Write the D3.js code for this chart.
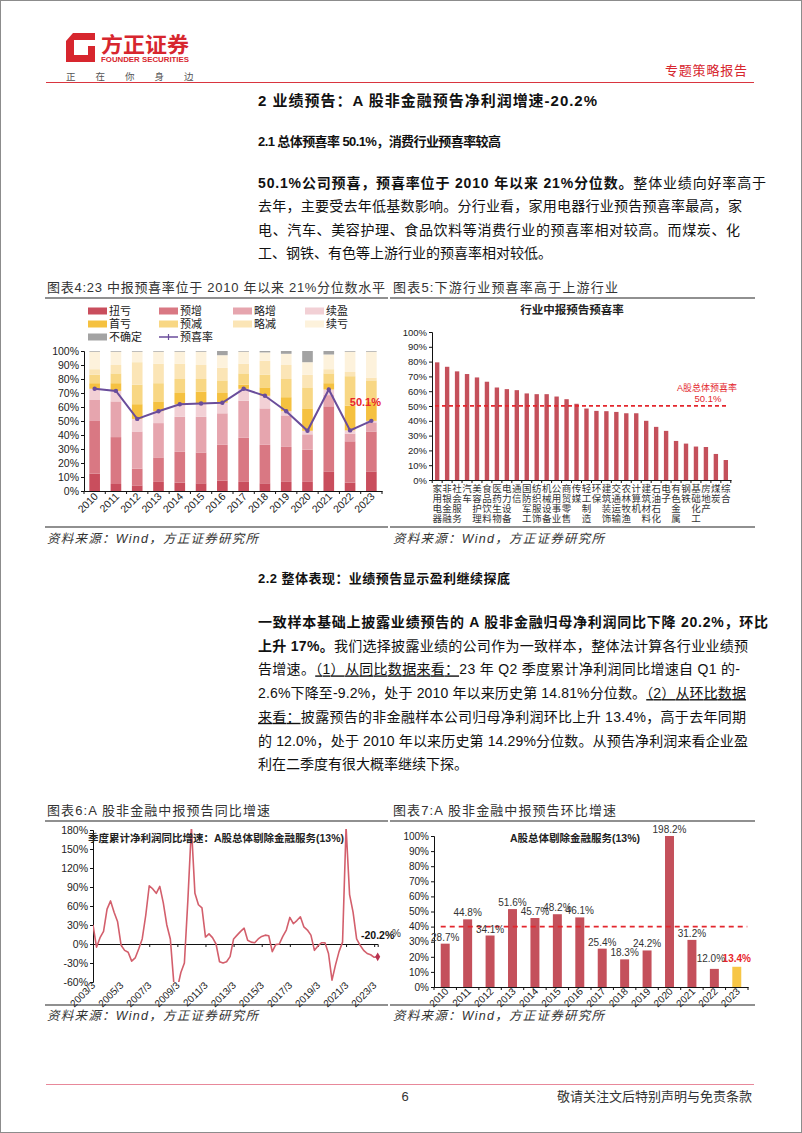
<!DOCTYPE html>
<html><head><meta charset="utf-8">
<script src="https://cdn.jsdelivr.net/npm/d3@7"></script>
<style>
html,body{margin:0;padding:0;background:#fff;}
svg{display:block;}
text{font-family:"Liberation Sans",Arial,"Noto Sans CJK SC",sans-serif;}
</style></head><body>
<svg id="page" width="802" height="1133"></svg>
<script>
// ---------------- DATA ----------------
const years = ["2010","2011","2012","2013","2014","2015","2016","2017","2018","2019","2020","2021","2022","2023"];
const fcKeys = ["扭亏","预增","略增","续盈","首亏","预减","略减","续亏","不确定"];
const fcNiukui   = [12.5,5,4,6.5,6,5.5,7.5,6.5,5.5,6.5,6.5,14,6,14];
const fcYuzeng   = [37.5,33.5,12,17.5,22,22,25.5,31.5,27.5,25,23,46.5,29.5,28.5];
const fcLuezeng  = [15,25.5,26.5,24.5,25,25.5,22.5,26.5,26,22.5,11,8,5.5,6.5];
const fcXuying   = [8,7.5,9,8.5,9,9.5,7.5,8.5,9,3,2.5,4,2.3,1.1];
const fcShoukui  = [4,5.5,10.5,7,8,8.5,7,3,6,10,16,4.5,17.7,13.9];
const fcYujian   = [6,7,14,13,10,9,9,8,9,13,15,7,21,15];
const fcLuejian  = [4,6,16,14,11,10,9,7,10,10,9,3,3,2];
const fcXukui    = [12.5,9.5,7.5,8.5,8.5,9.5,9,8.5,6,8,9,10.5,14.5,18.5];
const fcBuqueding= [0.5,0.5,0.5,0.5,0.5,0.5,3,0.5,1,2,8,2.5,0.5,0.5];
const happyRate  = [73,71.5,51.5,57,62,62.5,63,73,68,57,43,72.5,43.3,50.1];

const industries = ["家用电器","非银金融","社会服务","汽车","美容护理","食品饮料","医药生物","电力设备","通信","国防军工","纺织服饰","机械设备","公用事业","商贸零售","传媒","轻工制造","环保","建筑装饰","交通运输","农林牧渔","计算机","建筑材料","石油石化","电子","有色金属","钢铁","基础化工","房地产","煤炭","综合"];
const industryRate = [79.5,76.5,73.4,71.6,69.3,66.4,62.5,61.4,60.7,58.5,58,58,56.4,54.6,51.5,48.3,46.7,46.5,46,45.1,45.1,40,35.9,33.2,26.4,24.6,22.6,22.3,17.6,13.5];
const marketRate = 50.1;

const quarters = [
 "2003/3","2003/6","2003/9","2003/12","2004/3","2004/6","2004/9","2004/12",
 "2005/3","2005/6","2005/9","2005/12","2006/3","2006/6","2006/9","2006/12",
 "2007/3","2007/6","2007/9","2007/12","2008/3","2008/6","2008/9","2008/12",
 "2009/3","2009/6","2009/9","2009/12","2010/3","2010/6","2010/9","2010/12",
 "2011/3","2011/6","2011/9","2011/12","2012/3","2012/6","2012/9","2012/12",
 "2013/3","2013/6","2013/9","2013/12","2014/3","2014/6","2014/9","2014/12",
 "2015/3","2015/6","2015/9","2015/12","2016/3","2016/6","2016/9","2016/12",
 "2017/3","2017/6","2017/9","2017/12","2018/3","2018/6","2018/9","2018/12",
 "2019/3","2019/6","2019/9","2019/12","2020/3","2020/6","2020/9","2020/12",
 "2021/3","2021/6","2021/9","2021/12","2022/3","2022/6","2022/9","2022/12",
 "2023/3","2023/6"];
const yoyGrowth = [30,-5,10,20,55,68,50,35,
 -2,-10,-13,-27,-22,-8,8,45,
 92,87,80,91,65,30,8,-62,
 -70,-45,-30,70,185,80,62,57,
 11,16,10,0,-28,-30,-28,-20,
 8,14,20,25,6,3,2,8,
 12,14,13,-12,-1,0,12,22,
 42,32,37,43,27,22,14,-10,
 -3,2,2,-15,-57,-33,-12,3,
 185,78,50,8,-2,-10,-15,-17,
 -21,-20.2];
const yoyTicks = ["2003/3","2005/3","2007/3","2009/3","2011/3","2013/3","2015/3","2017/3","2019/3","2021/3","2023/3"];

const qoqGrowth = [28.7,44.8,34.1,51.6,45.7,48.2,46.1,25.4,18.3,24.2,198.2,31.2,12.0,13.4];
const qoqRef = 40;

// ---------------- PAGE ----------------
const svg = d3.select("#page");
svg.append("rect").attr("x",0.5).attr("y",0.5).attr("width",801).attr("height",1132)
  .attr("fill","#fff").attr("stroke","#8c8c8c");

function txt(x, y, s, o = {}) {
  const t = svg.append("text").attr("x", x).attr("y", y).text(s)
    .attr("font-size", o.size || 12).attr("fill", o.fill || "#222");
  if (o.weight) t.attr("font-weight", o.weight);
  if (o.anchor) t.attr("text-anchor", o.anchor);
  if (o.italic) t.attr("font-style", "italic");
  if (o.len) t.attr("textLength", o.len).attr("lengthAdjust", o.adj || "spacing");
  return t;
}
function hline(x1, x2, y, c, w) {
  svg.append("line").attr("x1", x1).attr("x2", x2).attr("y1", y).attr("y2", y)
    .attr("stroke", c).attr("stroke-width", w || 1);
}

// Header
const red = "#d7262e";
svg.append("path").attr("fill", red)
  .attr("d","M66,41 L73,33 L95,33 L95,40 L74,40 L74,55 L88,55 L88,46 L95,46 L95,62 L66,62 Z");
txt(101, 52, "方正证券", {size: 21, weight: "bold", fill: red, len: 88, adj: "spacingAndGlyphs"});
txt(101, 62, "FOUNDER SECURITIES", {size: 8, weight: "bold", fill: red, len: 88, adj: "spacingAndGlyphs"});
["正","在","你","身","边"].forEach((c, i) => txt(66 + i * 29.5, 80, c, {size: 9.5, fill: "#555"}));
txt(665, 75, "专题策略报告", {size: 13, fill: red, len: 82});
hline(46, 754, 82.5, "#d9353f", 1.2);

// Section titles
txt(258, 106, "2 业绩预告：A 股非金融预告净利润增速-20.2%", {size: 15, weight: "bold", fill: "#111", len: 339});
txt(258, 146, "2.1 总体预喜率 50.1%，消费行业预喜率较高", {size: 13, weight: "bold", fill: "#111", len: 243});

function para(lines, x, y0, lh) {
  lines.forEach((ln, i) => {
    const t = svg.append("text").attr("x", x).attr("y", y0 + i * lh)
      .attr("font-size", 14).attr("fill", "#111");
    ln.s.forEach(s => {
      const ts = t.append("tspan").text(s.t);
      if (s.b) ts.attr("font-weight", "bold");
      if (s.u) ts.style("text-decoration", "underline");
    });
    if (ln.w) t.attr("textLength", ln.w).attr("lengthAdjust", "spacing");
  });
}
para([
  {s: [{t: "50.1%公司预喜，预喜率位于 2010 年以来 21%分位数。", b: 1}, {t: "整体业绩向好率高于"}], w: 508},
  {s: [{t: "去年，主要受去年低基数影响。分行业看，家用电器行业预告预喜率最高，家"}], w: 484},
  {s: [{t: "电、汽车、美容护理、食品饮料等消费行业的预喜率相对较高。而煤炭、化"}], w: 482},
  {s: [{t: "工、钢铁、有色等上游行业的预喜率相对较低。"}]}
], 258, 188, 23.3);

txt(258, 583, "2.2 整体表现：业绩预告显示盈利继续探底", {size: 13, weight: "bold", fill: "#111", len: 252});
para([
  {s: [{t: "一致样本基础上披露业绩预告的 A 股非金融归母净利润同比下降 20.2%，环比", b: 1}], w: 510},
  {s: [{t: "上升 17%。", b: 1}, {t: "我们选择披露业绩的公司作为一致样本，整体法计算各行业业绩预"}], w: 490},
  {s: [{t: "告增速。"}, {t: "（1）从同比数据来看：", u: 1}, {t: "23 年 Q2 季度累计净利润同比增速自 Q1 的-"}], w: 482},
  {s: [{t: "2.6%下降至-9.2%，处于 2010 年以来历史第 14.81%分位数。"}, {t: "（2）从环比数据", u: 1}], w: 488},
  {s: [{t: "来看：", u: 1}, {t: "披露预告的非金融样本公司归母净利润环比上升 13.4%，高于去年同期"}], w: 488},
  {s: [{t: "的 12.0%，处于 2010 年以来历史第 14.29%分位数。从预告净利润来看企业盈"}], w: 490},
  {s: [{t: "利在二季度有很大概率继续下探。"}]}
], 258, 627, 23.7);

// Chart frames
txt(47, 292, "图表4:23 中报预喜率位于 2010 年以来 21%分位数水平", {size: 13, fill: "#333", len: 338});
txt(393, 292, "图表5:下游行业预喜率高于上游行业", {size: 13, fill: "#333", len: 225});
hline(45, 388, 298, "#222", 1.2); hline(390, 755, 298, "#222", 1.2);
hline(45, 388, 527, "#222", 1.2); hline(390, 755, 527, "#222", 1.2);
txt(47, 543, "资料来源：Wind，方正证券研究所", {size: 12.5, fill: "#333", italic: 1, len: 211});
txt(393, 543, "资料来源：Wind，方正证券研究所", {size: 12.5, fill: "#333", italic: 1, len: 211});

txt(47, 815, "图表6:A 股非金融中报预告同比增速", {size: 13, fill: "#333", len: 223});
txt(393, 815, "图表7:A 股非金融中报预告环比增速", {size: 13, fill: "#333", len: 223});
hline(45, 388, 821, "#222", 1.2); hline(390, 755, 821, "#222", 1.2);
hline(45, 388, 1005, "#222", 1.2); hline(390, 755, 1005, "#222", 1.2);
txt(47, 1020, "资料来源：Wind，方正证券研究所", {size: 12.5, fill: "#333", italic: 1, len: 211});
txt(393, 1020, "资料来源：Wind，方正证券研究所", {size: 12.5, fill: "#333", italic: 1, len: 211});

// Footer
hline(46, 754, 1084.5, "#e8889a", 1);
txt(405, 1101, "6", {size: 13, fill: "#333", anchor: "middle"});
txt(752, 1101, "敬请关注文后特别声明与免责条款", {size: 13, fill: "#333", anchor: "end"});

function styleAxis(g, size) {
  g.attr("font-family", null).attr("font-size", null);
  g.selectAll("text").attr("font-size", size).attr("fill", "#222");
  g.selectAll("path,line").attr("stroke", "#111");
}
function catTicks(g, x, cats, y0, outer) {
  g.selectAll("line.xt").data(d3.range(cats.length + 1)).join("line").attr("class", "xt")
    .attr("x1", i => x(cats[0]) - x.step() * x.paddingInner() / 2 + i * x.step())
    .attr("x2", i => x(cats[0]) - x.step() * x.paddingInner() / 2 + i * x.step())
    .attr("y1", y0).attr("y2", y0 + 3).attr("stroke", "#111");
}

// ---------------- CHART 4 ----------------
(function () {
  const g = svg.append("g");
  const colors = ["#c94e5d","#d97883","#e6a5ae","#f2d0d5","#f5c140","#f8d784","#fbe5b6","#fdf2dc","#a3a3a3"];
  const series = [fcNiukui,fcYuzeng,fcLuezeng,fcXuying,fcShoukui,fcYujian,fcLuejian,fcXukui,fcBuqueding];
  const table = years.map((y, i) => { const o = {year: y}; fcKeys.forEach((k, j) => o[k] = series[j][i]); return o; });
  const x = d3.scaleBand().domain(years).range([84, 382]).paddingInner(0.5).paddingOuter(0.25);
  const y = d3.scaleLinear().domain([0, 100]).range([491, 351]);
  const stacked = d3.stack().keys(fcKeys)(table);
  g.selectAll("g.layer").data(stacked).join("g").attr("fill", (d, i) => colors[i])
    .selectAll("rect").data(d => d).join("rect")
    .attr("x", d => x(d.data.year)).attr("width", x.bandwidth())
    .attr("y", d => y(d[1])).attr("height", d => y(d[0]) - y(d[1]));
  const ya = g.append("g").attr("transform", "translate(84,0)")
    .call(d3.axisLeft(y).tickValues(d3.range(0, 101, 10)).tickFormat(d => d + "%").tickSize(3).tickPadding(2));
  styleAxis(ya, 10.5);
  const xa = g.append("g").attr("transform", "translate(0,491)")
    .call(d3.axisBottom(x).tickSize(0).tickFormat(""));
  styleAxis(xa, 10);
  catTicks(g, x, years, 491);
  g.selectAll("text.xl").data(years).join("text").attr("class", "xl")
    .attr("transform", d => `translate(${x(d) + x.bandwidth() / 2 + 4},${497}) rotate(-45)`)
    .attr("text-anchor", "end").attr("font-size", 10.5).attr("fill", "#222").text(d => d);
  const pts = years.map((yr, i) => ({year: yr, v: happyRate[i]}));
  g.append("path").datum(pts).attr("fill", "none").attr("stroke", "#6a4d9b").attr("stroke-width", 2)
    .attr("d", d3.line().x(d => x(d.year) + x.bandwidth() / 2).y(d => y(d.v)));
  g.selectAll("circle").data(pts).join("circle").attr("r", 2.2).attr("fill", "#6a4d9b")
    .attr("cx", d => x(d.year) + x.bandwidth() / 2).attr("cy", d => y(d.v));
  g.append("text").attr("x", 381).attr("y", 406).attr("text-anchor", "end").attr("font-size", 11)
    .attr("font-weight", "bold").attr("fill", "#e8252b").text(happyRate[13] + "%");
  // legend
  const cols = [88, 159, 233, 305], rows = [311, 324, 337];
  fcKeys.forEach((k, i) => {
    const cx = cols[i % 4], cy = rows[Math.floor(i / 4)];
    g.append("rect").attr("x", cx).attr("y", cy - 3.5).attr("width", 19).attr("height", 7).attr("fill", colors[i]);
    g.append("text").attr("x", cx + 21).attr("y", cy + 4).attr("font-size", 11).attr("fill", "#222").text(k);
  });
  const lx = cols[1], ly = rows[2];
  g.append("line").attr("x1", lx).attr("x2", lx + 19).attr("y1", ly).attr("y2", ly).attr("stroke", "#6a4d9b").attr("stroke-width", 1.5);
  g.append("line").attr("x1", lx + 9.5).attr("x2", lx + 9.5).attr("y1", ly - 3).attr("y2", ly + 3).attr("stroke", "#6a4d9b").attr("stroke-width", 1.2);
  g.append("text").attr("x", lx + 21).attr("y", ly + 4).attr("font-size", 11).attr("fill", "#222").text("预喜率");
})();

// ---------------- CHART 5 ----------------
(function () {
  const g = svg.append("g");
  const x = d3.scaleBand().domain(industries).range([432, 731]).paddingInner(0.56).paddingOuter(0.3);
  const y = d3.scaleLinear().domain([0, 100]).range([480, 332]);
  g.append("text").attr("x", 572).attr("y", 314).attr("text-anchor", "middle").attr("font-size", 11.5)
    .attr("font-weight", "bold").attr("fill", "#222").text("行业中报预告预喜率");
  g.selectAll("rect").data(industries).join("rect").attr("fill", "#c4505b")
    .attr("x", d => x(d)).attr("width", x.bandwidth())
    .attr("y", (d, i) => y(industryRate[i])).attr("height", (d, i) => y(0) - y(industryRate[i]));
  const ya = g.append("g").attr("transform", "translate(432,0)")
    .call(d3.axisLeft(y).tickValues(d3.range(0, 101, 10)).tickFormat(d => d + "%").tickSize(3).tickPadding(2));
  styleAxis(ya, 9.5);
  const xa = g.append("g").attr("transform", "translate(0,480)")
    .call(d3.axisBottom(x).tickSize(0).tickFormat(""));
  styleAxis(xa, 9);
  catTicks(g, x, industries, 480);
  industries.forEach(name => {
    const t = g.append("text").attr("font-size", 9.5).attr("fill", "#333").attr("text-anchor", "middle");
    Array.from(name).forEach((c, j) => {
      t.append("tspan").attr("x", x(name) + x.bandwidth() / 2).attr("y", 491.5 + j * 10).text(c);
    });
  });
  g.append("line").attr("x1", x(industries[0])).attr("x2", x(industries[29]) + x.bandwidth())
    .attr("y1", y(marketRate)).attr("y2", y(marketRate))
    .attr("stroke", "#e3262d").attr("stroke-width", 1.6).attr("stroke-dasharray", "4,3");
  g.append("text").attr("x", 707).attr("y", 391).attr("text-anchor", "middle").attr("font-size", 9)
    .attr("fill", "#e3262d").text("A股总体预喜率");
  g.append("text").attr("x", 708).attr("y", 402).attr("text-anchor", "middle").attr("font-size", 9.5)
    .attr("fill", "#e3262d").text(marketRate + "%");
})();

// ---------------- CHART 6 ----------------
(function () {
  const g = svg.append("g");
  const x = d3.scalePoint().domain(quarters).range([93, 377.7]);
  const y = d3.scaleLinear().domain([-60, 180]).range([982, 830]);
  const ya = g.append("g").attr("transform", "translate(93,0)")
    .call(d3.axisLeft(y).tickValues(d3.range(-60, 181, 30)).tickFormat(d => d + "%").tickSize(3).tickPadding(2));
  styleAxis(ya, 10.5);
  const xa = g.append("g").attr("transform", `translate(0,${y(0)})`)
    .call(d3.axisBottom(x).tickValues(yoyTicks).tickSize(3).tickFormat(""));
  styleAxis(xa, 10);
  g.selectAll("text.xl").data(yoyTicks).join("text").attr("class", "xl")
    .attr("transform", d => `translate(${x(d) + 3},${y(-60) + 4}) rotate(-45)`)
    .attr("text-anchor", "end").attr("font-size", 10).attr("fill", "#222").text(d => d);
  svg.append("clipPath").attr("id", "clip6").append("rect").attr("x", 93).attr("y", y(180) - 1).attr("width", 300).attr("height", y(-60) - y(180) + 1);
  const pts = quarters.map((q, i) => ({q, v: yoyGrowth[i]}));
  g.append("path").datum(pts).attr("clip-path", "url(#clip6)").attr("fill", "none")
    .attr("stroke", "#d35f6c").attr("stroke-width", 1.6).attr("stroke-linejoin", "round")
    .attr("d", d3.line().x(d => x(d.q)).y(d => y(d.v)));
  const last = pts[pts.length - 1];
  g.append("path").attr("transform", `translate(${x(last.q)},${y(last.v)})`)
    .attr("d", d3.symbol(d3.symbolDiamond, 22)()).attr("fill", "#b8324f");
  g.append("text").attr("x", 361).attr("y", y(last.v) - 18).attr("font-size", 10.5).attr("font-weight", "bold")
    .attr("fill", "#111").text(last.v + "%");
  g.append("text").attr("x", 216).attr("y", 842).attr("text-anchor", "middle").attr("font-size", 10.5)
    .attr("font-weight", "bold").attr("fill", "#222").text("季度累计净利润同比增速：A股总体剔除金融服务(13%)");
})();

// ---------------- CHART 7 ----------------
(function () {
  const g = svg.append("g");
  const x = d3.scaleBand().domain(years).range([434, 748]).paddingInner(0.6).paddingOuter(0.3);
  const y = d3.scaleLinear().domain([0, 100]).range([987, 836]).clamp(true);
  g.selectAll("rect").data(years).join("rect")
    .attr("fill", (d, i) => i === 13 ? "#f7c646" : "#c4505b")
    .attr("x", d => x(d)).attr("width", x.bandwidth())
    .attr("y", (d, i) => y(qoqGrowth[i])).attr("height", (d, i) => y(0) - y(qoqGrowth[i]));
  const ya = g.append("g").attr("transform", "translate(434,0)")
    .call(d3.axisLeft(y).tickValues(d3.range(0, 101, 10)).tickFormat(d => d + "%").tickSize(3).tickPadding(2));
  styleAxis(ya, 10);
  const xa = g.append("g").attr("transform", "translate(0,987)")
    .call(d3.axisBottom(x).tickSize(0).tickFormat(""));
  styleAxis(xa, 10);
  catTicks(g, x, years, 987);
  g.selectAll("text.xl").data(years).join("text").attr("class", "xl")
    .attr("transform", d => `translate(${x(d) + x.bandwidth() / 2 + 4},${992}) rotate(-45)`)
    .attr("text-anchor", "end").attr("font-size", 10).attr("fill", "#222").text(d => d);
  g.append("line").attr("x1", x(years[0])).attr("x2", x(years[13]) + x.bandwidth() + 6)
    .attr("y1", y(qoqRef)).attr("y2", y(qoqRef))
    .attr("stroke", "#e3262d").attr("stroke-width", 1.6).attr("stroke-dasharray", "5,4");
  const shift = [0,0,0,0,0,0,0,0,0,0,0,0,-3.5,0];
  g.selectAll("text.vl").data(years).join("text").attr("class", "vl")
    .attr("x", (d, i) => x(d) + x.bandwidth() / 2 + shift[i])
    .attr("y", (d, i) => i >= 12 ? y(13.4) - 5 : y(qoqGrowth[i]) - 3)
    .attr("text-anchor", "middle").attr("font-size", 10)
    .attr("fill", (d, i) => i === 13 ? "#e8252b" : "#333")
    .attr("font-weight", (d, i) => i === 13 ? "bold" : null)
    .text((d, i) => qoqGrowth[i].toFixed(1) + "%");
  g.append("text").attr("x", 392).attr("y", 937).attr("font-size", 10).attr("fill", "#333").text("%");
  g.append("text").attr("x", 575).attr("y", 842).attr("text-anchor", "middle").attr("font-size", 10.5)
    .attr("font-weight", "bold").attr("fill", "#222").text("A股总体剔除金融服务(13%)");
})();
</script>
</body></html>
